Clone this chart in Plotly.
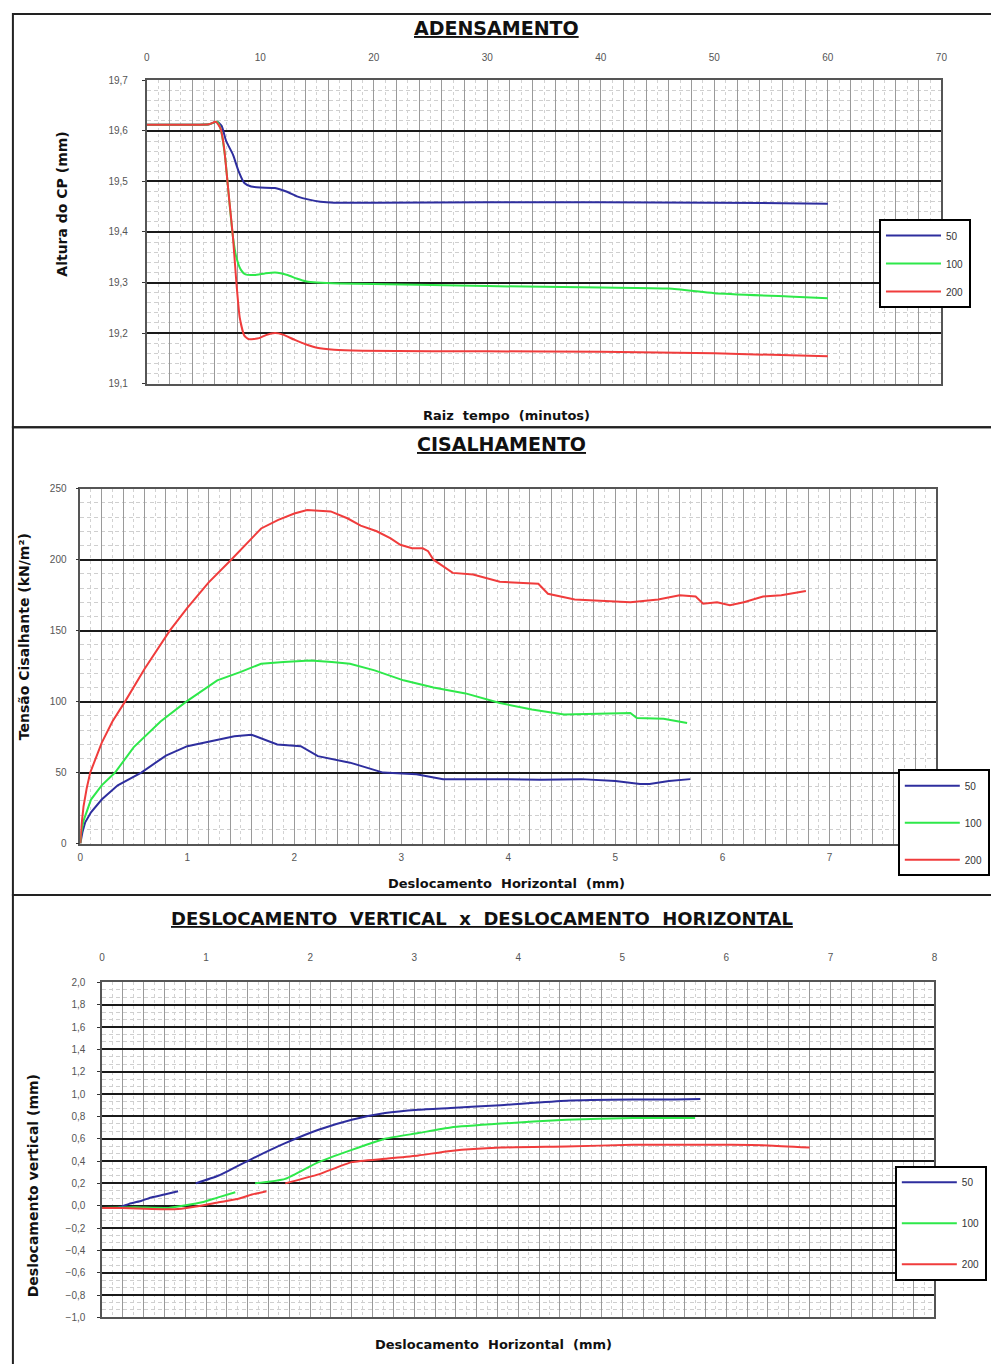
import plotly.graph_objects as go

# ---------------- DATA ----------------
series_names = ["50", "100", "200"]
colors = ["#2e2e9e", "#2ee84a", "#f03c3c"]

# ADENSAMENTO: raiz tempo (min) vs altura do CP (mm)
t_50 = [0, 2, 4, 5.5, 6.2, 6.6, 7.0, 7.6, 8.1, 8.6, 9.2, 10, 11.3, 12.3, 13.3, 14.3, 15.3, 16.5, 20, 30, 40, 50, 60]
h_50 = [19.612, 19.612, 19.612, 19.613, 19.618, 19.61, 19.58, 19.553, 19.52, 19.497, 19.49, 19.488, 19.487,
        19.48, 19.47, 19.464, 19.46, 19.458, 19.458, 19.459, 19.459, 19.458, 19.456]
t_100 = [0, 2, 4, 5.5, 6.2, 6.5, 6.9, 7.3, 7.6, 7.9, 8.3, 8.7, 9.5, 10.4, 11.3, 12.4, 13.2, 14.1, 15, 17, 20,
         30, 40, 46, 50, 57, 60]
h_100 = [19.612, 19.612, 19.612, 19.613, 19.618, 19.605, 19.55, 19.455, 19.39, 19.35, 19.325, 19.316, 19.315,
         19.318, 19.32, 19.315, 19.308, 19.302, 19.3, 19.298, 19.297, 19.293, 19.29, 19.288, 19.279, 19.272, 19.269]
t_200 = [0, 2, 4, 5.5, 6.1, 6.5, 6.8, 7.2, 7.6, 7.9, 8.2, 8.6, 9.0, 9.9, 10.5, 11.3, 12, 13, 14, 15, 16.5, 19,
         25, 30, 40, 50, 60]
h_200 = [19.612, 19.612, 19.612, 19.613, 19.618, 19.605, 19.57, 19.48, 19.39, 19.3, 19.23, 19.195, 19.188,
         19.19, 19.196, 19.2, 19.197, 19.187, 19.178, 19.171, 19.167, 19.165, 19.164, 19.164, 19.163, 19.16, 19.154]

# CISALHAMENTO: deslocamento horizontal (mm) vs tensao cisalhante (kN/m2)
d_50 = [0, 0.02, 0.046, 0.1, 0.2, 0.35, 0.57, 0.8, 1.0, 1.2, 1.44, 1.6, 1.7, 1.84, 2.06, 2.22, 2.52, 2.83,
        3.14, 3.39, 3.92, 4.3, 4.68, 5.0, 5.23, 5.32, 5.5, 5.7]
s_50 = [0, 8, 15, 22, 31, 41, 50, 62, 68.6, 72, 75.6, 76.7, 74, 69.8, 68.6, 61.6, 57, 50, 48.8, 45.3, 45.3,
        45, 45.4, 44, 42, 42, 44, 45.4]
d_100 = [0, 0.01, 0.03, 0.1, 0.2, 0.325, 0.5, 0.75, 0.99, 1.28, 1.5, 1.69, 1.9, 2.15, 2.35, 2.52, 2.75, 2.93,
         3.02, 3.3, 3.6, 3.92, 4.22, 4.52, 4.85, 5.14, 5.2, 5.45, 5.67]
s_100 = [0, 8, 16, 31, 41, 50, 68, 86, 100, 115, 121, 126.7, 128, 129, 128, 126.7, 122, 117.4, 115, 110,
         105.8, 99, 94.5, 91, 91.5, 92, 88.4, 88, 85]
d_200 = [0, 0.01, 0.03, 0.06, 0.093, 0.15, 0.2, 0.3, 0.418, 0.6, 0.836, 1.0, 1.2, 1.41, 1.69, 1.85, 2.0, 2.12,
         2.34, 2.5, 2.62, 2.77, 2.9, 2.99, 3.1, 3.2, 3.25, 3.3, 3.48, 3.67, 3.92, 4.28, 4.37, 4.62, 4.9, 5.14,
         5.4, 5.6, 5.75, 5.82, 5.95, 6.07, 6.2, 6.38, 6.55, 6.78]
s_200 = [0, 12, 26, 39, 50, 62, 71, 86, 100, 123, 150, 166, 184, 200, 222, 228, 232.5, 235, 234, 229, 224,
         220, 215, 210.5, 208, 208, 206, 200, 190.7, 189.5, 184.5, 183, 176, 172, 171, 170, 172, 175, 174, 169,
         170, 168, 170, 174, 175, 178]

# DESLOCAMENTO VERTICAL x DESLOCAMENTO HORIZONTAL
dh_50 = [0, 0.15, 0.26, 0.38, 0.48, 0.6, 0.73, None, 0.9, 1.12, 1.44, 1.76, 2.08, 2.4, 2.72, 3.04, 3.35,
         3.83, 4.46, 5.1, 5.5, 5.75]
dv_50 = [-0.02, -0.02, 0.016, 0.045, 0.075, 0.1, 0.13, None, 0.2, 0.27, 0.42, 0.56, 0.68, 0.77, 0.83, 0.86,
         0.875, 0.9, 0.94, 0.95, 0.95, 0.955]
dh_100 = [0, 0.32, 0.64, 0.96, 1.1, 1.28, None, 1.47, 1.76, 2.08, 2.4, 2.72, 3.04, 3.35, 3.83, 4.46, 5.1, 5.7]
dv_100 = [-0.02, -0.015, -0.02, 0.03, 0.07, 0.12, None, 0.2, 0.24, 0.39, 0.5, 0.6, 0.65, 0.7, 0.735, 0.77,
          0.785, 0.785]
dh_200 = [0, 0.2, 0.48, 0.73, 0.95, 1.12, 1.3, 1.44, 1.58, None, 1.76, 2.08, 2.4, 2.72, 3.04, 3.35, 3.83,
          4.46, 5.1, 5.74, 6.05, 6.4, 6.8]
dv_200 = [-0.02, -0.02, -0.03, -0.03, 0.0, 0.03, 0.06, 0.1, 0.13, None, 0.2, 0.28, 0.39, 0.42, 0.45, 0.49,
          0.52, 0.53, 0.545, 0.545, 0.545, 0.54, 0.52]

top_xticks = list(range(0, 72, 2))
mid_xticks = [round(i * 0.2, 1) for i in range(0, 41)]
bot_xticks = [round(i * 0.2, 1) for i in range(0, 41)]

# ---------------- FIGURE ----------------
W, H = 991, 1364


def px(x):
    return x / W


def py(y):
    return 1 - y / H


FONT = "Liberation Sans, Arial, sans-serif"
TFONT = "DejaVu Sans, Liberation Sans, sans-serif"
fig = go.Figure()

panels = [
    ([t_50, t_100, t_200], [h_50, h_100, h_200], "x", "y", "legend", "spline"),
    ([d_50, d_100, d_200], [s_50, s_100, s_200], "x2", "y2", "legend2", "linear"),
    ([dh_50, dh_100, dh_200], [dv_50, dv_100, dv_200], "x3", "y3", "legend3", "spline"),
]
for xs, ys, xa, ya, lg, shp in panels:
    for i, name in enumerate(series_names):
        line = dict(color=colors[i], width=2, shape=shp)
        if shp == "spline":
            line["smoothing"] = 0.5
        fig.add_trace(go.Scatter(
            x=xs[i], y=ys[i], mode="lines", name=name, line=line,
            xaxis=xa, yaxis=ya, legend=lg, legendgroup=f"{lg}_{name}",
            connectgaps=False,
        ))


def tick_labels(vals, step):
    return [f"{v:g}" if abs(v / step - round(v / step)) < 1e-6 else "" for v in vals]


tickfont = dict(family=FONT, size=10, color="#555555")
xgrid = dict(showgrid=True, gridcolor="#9a9a9a", gridwidth=1, zeroline=False,
             showline=True, mirror=True, linecolor="#555555", linewidth=1.5,
             tickfont=tickfont, ticks="")
ygrid = dict(showgrid=True, gridcolor="#1a1a1a", gridwidth=2, zeroline=False,
             showline=True, mirror=True, linecolor="#555555", linewidth=1.5,
             tickfont=tickfont, ticks="outside", ticklen=3, tickcolor="#333")
minor_v = dict(showgrid=True, gridcolor="#d2d2d2", griddash="3px,3px", gridwidth=1)
minor_h = dict(showgrid=True, gridcolor="#cfcfcf", griddash="4px,3px", gridwidth=1)

fig.update_layout(
    width=W, height=H,
    margin=dict(l=0, r=0, t=0, b=0),
    paper_bgcolor="white", plot_bgcolor="white",
    separators=",.",
    font=dict(family=FONT, color="#222"),
    xaxis=dict(domain=[px(145), px(947)], range=[0, 70], side="top", anchor="y",
               tickmode="array", tickvals=top_xticks, ticktext=tick_labels(top_xticks, 10),
               minor=dict(dtick=1, **minor_v), ticklabelstandoff=14, **xgrid),
    yaxis=dict(domain=[py(381), py(75)], range=[19.1, 19.7], dtick=0.1, tickformat=".1f", anchor="x",
               minor=dict(dtick=0.02, **minor_h), ticklabelstandoff=12, **ygrid),
    xaxis2=dict(domain=[px(78), px(942)], range=[0, 8], anchor="y2",
                tickmode="array", tickvals=mid_xticks, ticktext=tick_labels(mid_xticks, 1),
                minor=dict(dtick=0.1, **minor_v), ticklabelstandoff=4, **xgrid),
    yaxis2=dict(domain=[py(845), py(487)], range=[0, 250], dtick=50, anchor="x2",
                minor=dict(dtick=10, **minor_h), ticklabelstandoff=7, **ygrid),
    xaxis3=dict(domain=[px(100), px(940)], range=[0, 8], side="top", anchor="y3",
                tickmode="array", tickvals=bot_xticks, ticktext=tick_labels(bot_xticks, 1),
                minor=dict(dtick=0.1, **minor_v), ticklabelstandoff=16, **xgrid),
    yaxis3=dict(domain=[py(1323), py(985)], range=[-1.0, 2.0], dtick=0.2, tickformat=".1f", anchor="x3",
                minor=dict(dtick=0.2 / 3, **minor_h), ticklabelstandoff=10, **ygrid),
)

leg_common = dict(bgcolor="white", bordercolor="black", borderwidth=2,
                  font=dict(family=FONT, size=10, color="#333"),
                  xanchor="left", yanchor="top", itemwidth=55)
fig.update_layout(
    legend=dict(x=px(884), y=py(215), tracegroupgap=9, **leg_common),
    legend2=dict(x=px(903), y=py(770), tracegroupgap=18, **leg_common),
    legend3=dict(x=px(900), y=py(1170), tracegroupgap=22, **leg_common),
)

# panel frames
frame_y = [(py(425), py(8)), (py(897), py(425)), (-0.01, py(897))]
for y0, y1 in frame_y:
    fig.add_shape(type="rect", xref="paper", yref="paper", x0=px(10), x1=1.02, y0=y0, y1=y1,
                  line=dict(color="#222", width=2), fillcolor="rgba(0,0,0,0)", layer="below")

title_font = dict(family=TFONT, size=18, color="#111")
short_title_font = dict(family=TFONT, size=19, color="#111")
xt_font = dict(family=TFONT, size=13, color="#111")
yt_font = dict(family=TFONT, size=14, color="#111")
annots = [
    ("<b><u>ADENSAMENTO</u></b>", 498, 22, short_title_font, 0),
    ("<b><u>CISALHAMENTO</u></b>", 503, 442, short_title_font, 0),
    ("<b><u>DESLOCAMENTO  VERTICAL  x  DESLOCAMENTO  HORIZONTAL</u></b>", 483, 921, title_font, 0),
    ("<b>Raiz  tempo  (minutos)</b>", 508, 413, xt_font, 0),
    ("<b>Deslocamento  Horizontal  (mm)</b>", 508, 885, xt_font, 0),
    ("<b>Deslocamento  Horizontal  (mm)</b>", 495, 1350, xt_font, 0),
    ("<b>Altura do CP (mm)</b>", 60, 200, yt_font, -90),
    ("<b>Tensão Cisalhante (kN/m²)</b>", 22, 636, yt_font, -90),
    ("<b>Deslocamento vertical (mm)</b>", 30, 1190, yt_font, -90),
]
for text, x, y, f, ang in annots:
    fig.add_annotation(text=text, x=px(x), y=py(y), xref="paper", yref="paper", showarrow=False,
                       font=f, textangle=ang, xanchor="center", yanchor="middle")

# remove the default page margin so the 991x1364 figure fills the window exactly
page_fix = "document.body.style.margin='0';document.body.style.overflow='hidden';"
fig.write_html("out.html", post_script=page_fix, config={"displayModeBar": False})
